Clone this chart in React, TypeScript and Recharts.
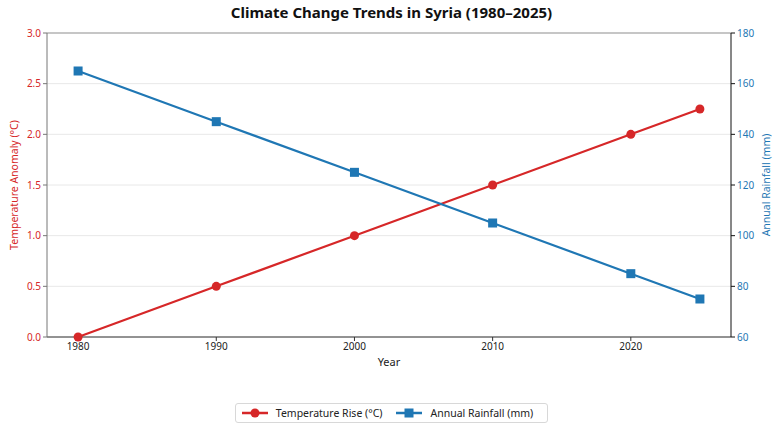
import React from 'react';
import {
  ComposedChart,
  Line,
  XAxis,
  YAxis,
  CartesianGrid,
  Legend,
  ReferenceLine,
} from 'recharts';

const years = [1980, 1990, 2000, 2010, 2020, 2025];
const temperatureRise = [0, 0.5, 1.0, 1.5, 2.0, 2.25];
const annualRainfall = [165, 145, 125, 105, 85, 75];

const yearTicks = [1980, 1990, 2000, 2010, 2020];
const tempTicks = [0, 0.5, 1.0, 1.5, 2.0, 2.5, 3.0];
const rainTicks = [60, 80, 100, 120, 140, 160, 180];

const RED = '#d62728';
const BLUE = '#1f77b4';
const FONT = '"Noto Sans", sans-serif';

const data = years.map((year, i) => ({
  year,
  temp: temperatureRise[i],
  rain: annualRainfall[i],
}));

function SquareDot(props: any) {
  const { cx, cy, index } = props;
  if (cx == null || cy == null) return null;
  return <rect key={index} x={cx - 4.5} y={cy - 4.5} width={9} height={9} fill={BLUE} />;
}

function LegendBox() {
  const item = (color: string, square: boolean, label: string) => (
    <span style={{ display: 'inline-flex', alignItems: 'center', marginRight: 14 }}>
      <svg width={26} height={10} style={{ marginRight: 8 }}>
        <line x1={0} y1={5} x2={26} y2={5} stroke={color} strokeWidth={2.5} />
        {square ? (
          <rect x={8.5} y={0.5} width={9} height={9} fill={color} />
        ) : (
          <circle cx={13} cy={5} r={4.5} fill={color} />
        )}
      </svg>
      {label}
    </span>
  );
  return (
    <div style={{ display: 'flex', justifyContent: 'center', height: 20 }}>
      <div
        style={{
          display: 'inline-flex',
          alignItems: 'center',
          border: '1px solid #d8d8d8',
          borderRadius: 3,
          padding: '0 0 0 6px',
          height: 18,
          fontSize: 10.5,
          color: '#222',
          fontFamily: FONT,
        }}
      >
        {item(RED, false, 'Temperature Rise (°C)')}
        {item(BLUE, true, 'Annual Rainfall (mm)')}
      </div>
    </div>
  );
}

export default function App() {
  return (
    <div style={{ position: 'absolute', left: 0, top: 0, width: 783, height: 433, background: '#fff' }}>
      <div
        style={{
          position: 'absolute',
          top: 2,
          width: 783,
          textAlign: 'center',
          fontFamily: FONT,
          fontWeight: 700,
          fontSize: 15,
          color: '#111',
        }}
      >
        Climate Change Trends in Syria (1980–2025)
      </div>
      <ComposedChart
        width={783}
        height={433}
        data={data}
        margin={{ top: 33, right: 0, bottom: 10, left: 0 }}
        style={{ fontFamily: FONT }}
      >
        <CartesianGrid vertical={false} stroke="#e8e8e8" yAxisId="left" />
        <XAxis
          dataKey="year"
          type="number"
          domain={[1977.75, 2027.25]}
          ticks={yearTicks}
          allowDataOverflow
          height={66}
          tickSize={4}
          stroke="#333"
          tick={{ fontSize: 10, fill: '#222' }}
          label={{ value: 'Year', position: 'insideTop', offset: 21, fontSize: 11, fill: '#222' }}
        />
        <YAxis
          yAxisId="left"
          orientation="left"
          domain={[0, 3]}
          ticks={tempTicks}
          width={47}
          tickSize={4}
          stroke="#777"
          tickFormatter={(v: number) => v.toFixed(1)}
          tick={{ fontSize: 10, fill: RED }}
          label={{
            value: 'Temperature Anomaly (°C)',
            angle: -90,
            position: 'insideLeft',
            offset: 14,
            style: { textAnchor: 'middle', fontSize: 10.5, fill: RED },
          }}
        />
        <YAxis
          yAxisId="right"
          orientation="right"
          domain={[60, 180]}
          ticks={rainTicks}
          width={52}
          tickSize={4}
          stroke="#111"
          tick={{ fontSize: 10, fill: BLUE }}
          label={{
            value: 'Annual Rainfall (mm)',
            angle: -90,
            position: 'insideRight',
            offset: 17,
            style: { textAnchor: 'middle', fontSize: 10.5, fill: BLUE },
          }}
        />
        <ReferenceLine yAxisId="left" y={3} stroke="#999" strokeWidth={1} />
        <Line
          yAxisId="left"
          dataKey="temp"
          name="Temperature Rise (°C)"
          stroke={RED}
          strokeWidth={2.2}
          dot={{ r: 4.5, fill: RED, stroke: RED, strokeWidth: 0 }}
          activeDot={false}
          isAnimationActive={false}
        />
        <Line
          yAxisId="right"
          dataKey="rain"
          name="Annual Rainfall (mm)"
          stroke={BLUE}
          strokeWidth={2.2}
          dot={<SquareDot />}
          activeDot={false}
          isAnimationActive={false}
        />
        <Legend verticalAlign="bottom" height={20} content={() => <LegendBox />} />
      </ComposedChart>
    </div>
  );
}
